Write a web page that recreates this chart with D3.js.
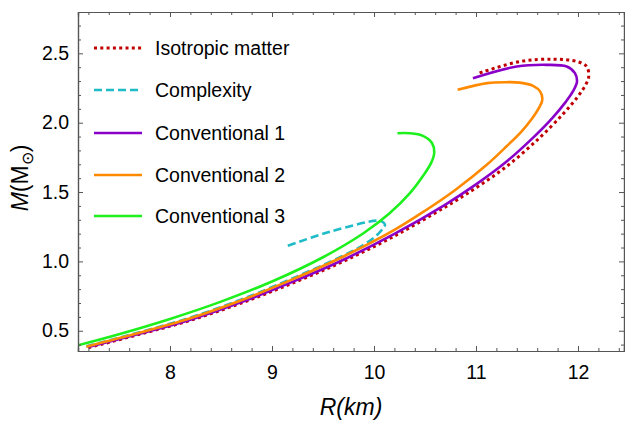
<!DOCTYPE html>
<html>
<head>
<meta charset="utf-8">
<script src="https://cdn.jsdelivr.net/npm/d3@7"></script>
<style>
    body { margin: 0; background: #fff; }
    text { font-family: 'Liberation Sans', Arial, sans-serif; fill: #000; }
</style>
</head>
<body>
<svg id="board" width="625" height="423"></svg>
<script>

// data (R in km, M in solar masses)
let isoR = [7.2, 7.7, 8.2, 8.7, 9.2, 9.7, 10.2, 10.7, 11.0, 11.3, 11.6, 11.85, 12.0, 12.08, 12.105, 12.085, 11.99, 11.76, 11.43, 11.02]
let isoM = [0.378, 0.474, 0.575, 0.7, 0.843, 1.0, 1.183, 1.393, 1.53, 1.685, 1.875, 2.06, 2.19, 2.28, 2.333, 2.405, 2.441, 2.458, 2.441, 2.355]

let cpxR = [7.18, 7.7, 8.2, 8.7, 9.2, 9.7, 9.9, 10.03, 10.09, 10.108, 10.08, 10.026, 9.57, 9.127]
let cpxM = [0.388, 0.489, 0.595, 0.726, 0.877, 1.042, 1.12, 1.19, 1.24, 1.265, 1.287, 1.294, 1.214, 1.106]

let c1R = [7.2, 7.7, 8.2, 8.7, 9.2, 9.7, 10.2, 10.7, 11.0, 11.3, 11.55, 11.75, 11.88, 11.95, 11.99, 11.97, 11.89, 11.69, 11.4, 10.97]
let c1M = [0.382, 0.478, 0.58, 0.707, 0.852, 1.012, 1.198, 1.41, 1.555, 1.72, 1.885, 2.035, 2.15, 2.225, 2.296, 2.357, 2.405, 2.417, 2.405, 2.321]

let c2R = [7.18, 7.7, 8.2, 8.7, 9.2, 9.7, 10.2, 10.5, 10.8, 11.1, 11.3, 11.45, 11.55, 11.62, 11.65, 11.63, 11.56, 11.43, 11.3, 11.11, 10.82]
let c2M = [0.385, 0.485, 0.59, 0.72, 0.87, 1.035, 1.227, 1.365, 1.517, 1.693, 1.83, 1.94, 2.03, 2.11, 2.165, 2.224, 2.266, 2.289, 2.292, 2.285, 2.237]

let c3R = [7.08, 7.5, 8.0, 8.5, 9.0, 9.5, 9.9, 10.15, 10.35, 10.48, 10.56, 10.59, 10.57, 10.48, 10.35, 10.23]
let c3M = [0.392, 0.475, 0.585, 0.71, 0.855, 1.03, 1.205, 1.345, 1.49, 1.615, 1.71, 1.78, 1.852, 1.905, 1.924, 1.924]

let seriesNames = ['Isotropic matter', 'Complexity', 'Conventional 1', 'Conventional 2', 'Conventional 3']
let seriesColors = ['#c00000', '#1fbcc8', '#8a00c8', '#ff8a00', '#1ef01e']
let seriesDash = ['3,3.3', '8,4', null, null, null]

let xTicks = [8, 9, 10, 11, 12]
let yTicks = [0.5, 1.0, 1.5, 2.0, 2.5]

let seriesR = [isoR, cpxR, c1R, c2R, c3R]
let seriesM = [isoM, cpxM, c1M, c2M, c3M]

let board = d3.select('#board')

let plotLeft = 78, plotTop = 12, plotRight = 624, plotBottom = 351

let xScale = d3.scaleLinear().domain([7.098, 12.451]).range([plotLeft, plotRight])
let yScale = d3.scaleLinear().domain([0.354, 2.798]).range([plotBottom, plotTop])

board.append('clipPath')
    .attr('id', 'plotClip')
    .append('rect')
    .attr('x', plotLeft)
    .attr('y', plotTop)
    .attr('width', plotRight - plotLeft)
    .attr('height', plotBottom - plotTop)

// curves, drawn in legend order
let line = d3.line()
    .x((d) => { return xScale(d[0]) })
    .y((d) => { return yScale(d[1]) })
    .curve(d3.curveCatmullRom.alpha(0.5))

let curves = board.append('g').attr('clip-path', 'url(#plotClip)')

seriesNames.forEach((name, i) => {
    let pts = seriesR[i].map((r, j) => { return [r, seriesM[i][j]] })
    curves.append('path')
        .datum(pts)
        .attr('d', line)
        .attr('fill', 'none')
        .attr('stroke', seriesColors[i])
        .attr('stroke-width', i == 0 ? 3 : 2.6)
        .attr('stroke-dasharray', seriesDash[i])
})

// frame with ticks on all sides, pointing in
let xMinor = d3.range(7.2, 12.45, 0.2).filter((v) => { return Math.abs(v - Math.round(v)) > 0.01 })
let yMinor = d3.range(0.4, 2.8, 0.1).filter((v) => { return Math.abs(v * 2 - Math.round(v * 2)) > 0.01 })

let axisColor = '#555'

board.append('g')
    .attr('transform', 'translate(0,' + plotBottom + ')')
    .call(d3.axisBottom(xScale).tickValues(xMinor).tickSize(-3).tickFormat(''))
board.append('g')
    .attr('transform', 'translate(0,' + plotBottom + ')')
    .call(d3.axisBottom(xScale).tickValues(xTicks).tickSize(-5).tickPadding(14).tickFormat(d3.format('d')))
board.append('g')
    .attr('transform', 'translate(0,' + plotTop + ')')
    .call(d3.axisTop(xScale).tickValues(xMinor).tickSize(-3).tickFormat(''))
board.append('g')
    .attr('transform', 'translate(0,' + plotTop + ')')
    .call(d3.axisTop(xScale).tickValues(xTicks).tickSize(-5).tickFormat(''))

board.append('g')
    .attr('transform', 'translate(' + plotLeft + ',0)')
    .call(d3.axisLeft(yScale).tickValues(yMinor).tickSize(-3).tickFormat(''))
board.append('g')
    .attr('transform', 'translate(' + plotLeft + ',0)')
    .call(d3.axisLeft(yScale).tickValues(yTicks).tickSize(-5).tickPadding(9).tickFormat(d3.format('.1f')))
board.append('g')
    .attr('transform', 'translate(' + plotRight + ',0)')
    .call(d3.axisRight(yScale).tickValues(yMinor).tickSize(-3).tickFormat(''))
board.append('g')
    .attr('transform', 'translate(' + plotRight + ',0)')
    .call(d3.axisRight(yScale).tickValues(yTicks).tickSize(-5).tickFormat(''))

board.selectAll('.domain').attr('stroke', axisColor).attr('stroke-width', 1.2)
board.selectAll('.tick line').attr('stroke', axisColor)
board.selectAll('.tick text')
    .style('font-size', '19.5px')
    .style('font-family', "'Liberation Sans', Arial, sans-serif")
    .attr('fill', '#000')

// axis titles
board.append('text')
    .attr('x', 351)
    .attr('y', 415)
    .attr('text-anchor', 'middle')
    .style('font-size', '23px')
    .style('font-style', 'italic')
    .text('R(km)')

let yTitle = board.append('text')
    .attr('transform', 'translate(28,178) rotate(-90)')
    .attr('text-anchor', 'middle')
    .style('font-size', '23px')
yTitle.append('tspan').style('font-style', 'italic').text('M')
yTitle.append('tspan').text('(M')
yTitle.append('tspan').attr('dy', 5).style('font-size', '16px').text('⊙')
yTitle.append('tspan').attr('dy', -5).text(')')

// legend
let legendY = [48, 90, 133, 175, 216]

seriesNames.forEach((name, i) => {
    board.append('line')
        .attr('x1', 94)
        .attr('x2', 142)
        .attr('y1', legendY[i])
        .attr('y2', legendY[i])
        .attr('stroke', seriesColors[i])
        .attr('stroke-width', i == 0 ? 3 : 2.6)
        .attr('stroke-dasharray', seriesDash[i])
    board.append('text')
        .attr('x', 155)
        .attr('y', legendY[i])
        .attr('dy', '0.35em')
        .style('font-size', '19.5px')
        .text(name)
})

</script>
</body>
</html>
